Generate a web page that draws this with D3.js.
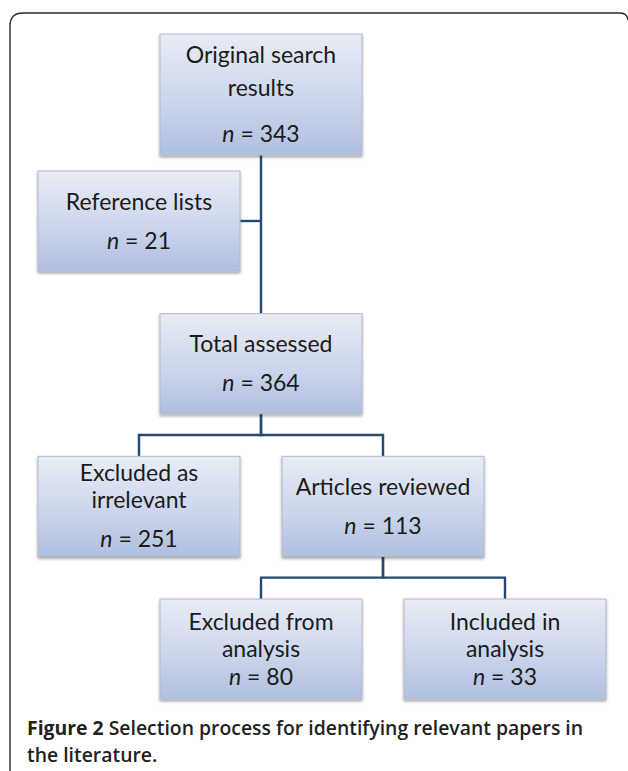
<!DOCTYPE html>
<html>
<head>
<meta charset="utf-8">
<script src="https://cdn.jsdelivr.net/npm/d3@7"></script>
<style>
  body { margin: 0; background: #fff; }
  svg { display: block; }
</style>
</head>
<body>
<div class="visHolder"></div>
<script>
var width = 628,
  height = 771;

// flowchart data
const nodeIds = ["search", "refs", "total", "irrelevant", "reviewed", "excluded", "included"];
const nodeLabels = [
  ["Original search", "results"],
  ["Reference lists"],
  ["Total assessed"],
  ["Excluded as", "irrelevant"],
  ["Articles reviewed"],
  ["Excluded from", "analysis"],
  ["Included in", "analysis"]
];
const nodeCounts = [343, 21, 364, 251, 113, 80, 33];
const nodeCols = [1, 0, 1, 0, 2, 1, 3];
const nodeRows = [0, 1, 2, 3, 3, 4, 4];
const treeLinks = [["search", "total"], ["total", "irrelevant"], ["total", "reviewed"], ["reviewed", "excluded"], ["reviewed", "included"]];
const sideLinks = [["refs", "total"]];
const captionBold = "Figure 2";
const captionLines = ["Selection process for identifying relevant papers in", "the literature."];

// layout
var boxW = 202;
var xScale = d3.scaleLinear().domain([0, 3]).range([38, 404]);
var yScale = d3.scaleLinear().domain([1, 4]).range([171, 599]);
var rowStyle = [
  { top: 34, h: 121, lh: 33, gap: 46 },
  { h: 100, lh: 27, gap: 39 },
  { h: 100, lh: 27, gap: 39 },
  { h: 100, lh: 27, gap: 39 },
  { h: 100, lh: 27, gap: 28 }
];

var nodes = nodeIds.map(function (id, i) {
  var r = nodeRows[i], st = rowStyle[r];
  var x = xScale(nodeCols[i]);
  var y = r === 0 ? st.top : yScale(r);
  return { id: id, label: nodeLabels[i], n: nodeCounts[i], x: x, y: y, w: boxW, h: st.h, st: st };
});
var byId = {};
nodes.forEach(function (d) { byId[d.id] = d; });

var svg = d3.select(".visHolder").append("svg").attr("width", width).attr("height", height);

var defs = svg.append("defs");
var grad = defs.append("linearGradient").attr("id", "boxFill").attr("x1", 0).attr("y1", 0).attr("x2", 0).attr("y2", 1);
grad.append("stop").attr("offset", "0%").attr("stop-color", "#e8ecf6");
grad.append("stop").attr("offset", "45%").attr("stop-color", "#d2daee");
grad.append("stop").attr("offset", "100%").attr("stop-color", "#b0bfe0");
var shadow = defs.append("filter").attr("id", "shadow").attr("x", "-10%").attr("y", "-10%").attr("width", "120%").attr("height", "130%");
shadow.append("feDropShadow").attr("dx", 0).attr("dy", 2).attr("stdDeviation", 1.4)
  .attr("flood-color", "#000").attr("flood-opacity", 0.35);

// frame
svg.append("path")
  .attr("d", "M10,771 V26 Q10,13 23,13 H620 Q627,13 628,20")
  .attr("fill", "none")
  .attr("stroke", "#2b2b2b")
  .attr("stroke-width", 1.4);

// connectors
var linkColor = "#27496f";
var linkG = svg.append("g").attr("fill", "none").attr("stroke", linkColor).attr("stroke-width", 2.4);

treeLinks.forEach(function (l) {
  var s = byId[l[0]], t = byId[l[1]];
  var sx = s.x + s.w / 2, tx = t.x + t.w / 2;
  var sb = s.y + s.h, tt = t.y;
  var p;
  if (sx === tx) {
    p = "M" + sx + "," + sb + " V" + tt;
  } else {
    var mid = (sb + tt) / 2;
    p = "M" + sx + "," + sb + " V" + mid + " H" + tx + " V" + tt;
  }
  linkG.append("path").attr("d", p);
});

sideLinks.forEach(function (l) {
  var s = byId[l[0]], t = byId[l[1]];
  var sy = s.y + s.h / 2;
  linkG.append("path").attr("d", "M" + (s.x + s.w) + "," + sy + " H" + (t.x + t.w / 2));
});

// boxes
var box = svg.selectAll(".node")
  .data(nodes)
  .enter()
  .append("g")
  .attr("class", "node")
  .attr("transform", function (d) { return "translate(" + d.x + "," + d.y + ")"; });

box.append("rect")
  .attr("width", function (d) { return d.w; })
  .attr("height", function (d) { return d.h; })
  .attr("fill", "url(#boxFill)")
  .attr("stroke", "#b0b9ca")
  .attr("stroke-width", 1)
  .attr("filter", "url(#shadow)");

box.each(function (d) {
  var g = d3.select(this);
  var st = d.st;
  var span = (d.label.length - 1) * st.lh + st.gap;
  var y0 = d.h / 2 - span / 2;
  var text = g.append("text")
    .attr("text-anchor", "middle")
    .style("font-family", "Lato, 'Open Sans', sans-serif")
    .style("font-size", "23px")
    .attr("fill", "#1b1b1b");
  d.label.forEach(function (line, i) {
    text.append("tspan")
      .attr("x", d.w / 2)
      .attr("y", y0 + i * st.lh)
      .attr("dy", "0.35em")
      .text(line);
  });
  var ny = y0 + (d.label.length - 1) * st.lh + st.gap;
  var nt = g.append("text")
    .attr("text-anchor", "middle")
    .attr("x", d.w / 2)
    .attr("y", ny)
    .attr("dy", "0.35em")
    .style("font-family", "Lato, 'Open Sans', sans-serif")
    .style("font-size", "23px")
    .attr("fill", "#1b1b1b");
  nt.append("tspan").style("font-style", "italic").text("n");
  nt.append("tspan").text(" = " + d.n);
});

// caption
var cap = svg.append("g")
  .style("font-family", "'Open Sans', 'Noto Sans', sans-serif")
  .style("font-size", "19.4px")
  .attr("fill", "#231f20");

var c1 = cap.append("text").attr("x", 27).attr("y", 735);
c1.append("tspan").style("font-weight", "bold").text(captionBold);
c1.append("tspan").style("font-weight", 600).text(" " + captionLines[0]);
cap.append("text").attr("x", 27).attr("y", 762).style("font-weight", 600).text(captionLines[1]);
</script>
</body>
</html>
